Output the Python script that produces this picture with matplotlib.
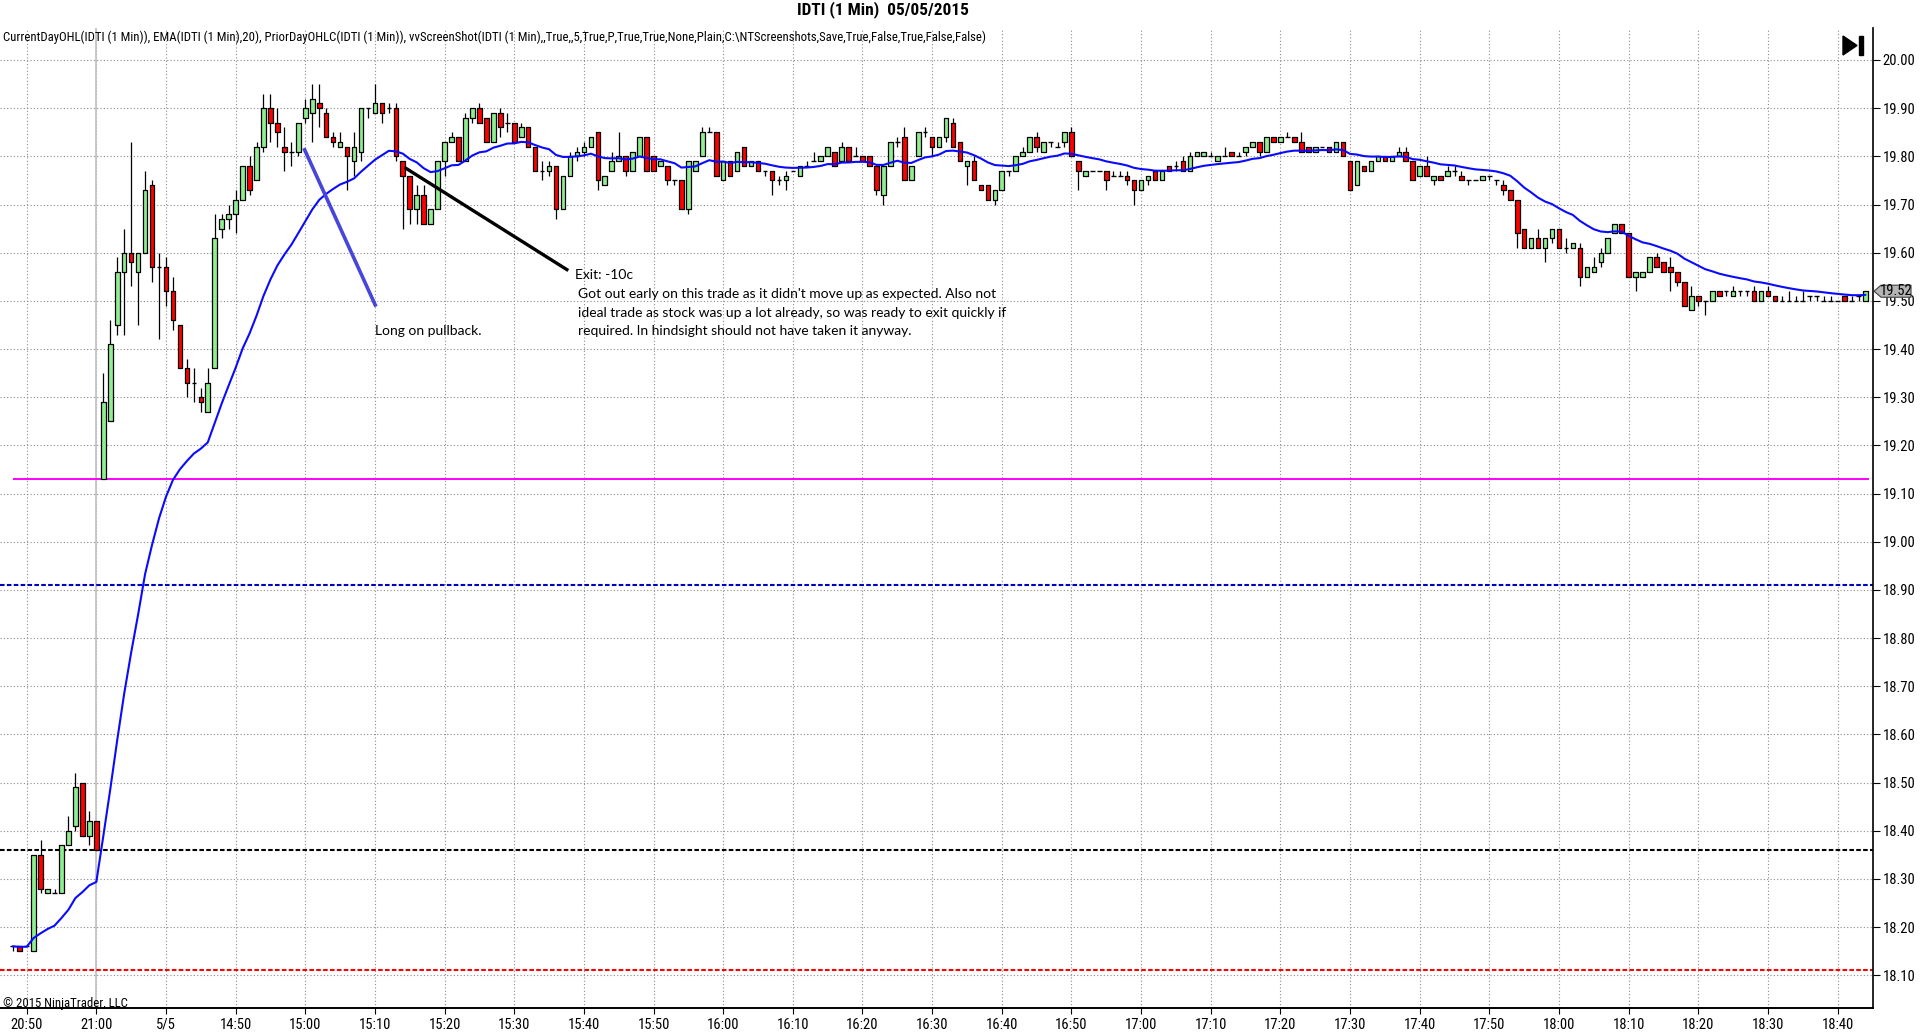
import os
import numpy as np
import matplotlib
matplotlib.use("Agg")
import matplotlib.pyplot as plt
from matplotlib import font_manager
from matplotlib.font_manager import FontProperties
from matplotlib.patches import Rectangle, Polygon
from matplotlib.collections import LineCollection, PatchCollection
import matplotlib.transforms as mtransforms

# ---- data: 1 minute bars, index 0 = 20:50 (prior day), 20 = 5/5 14:40 ----
bars = np.arange(-2, 265)

opens = [18.16, 18.16, 18.16,
    18.15, 18.35, 18.27, 18.27, 18.27, 18.37, 18.41, 18.50, 18.39, 18.42,
    19.13, 19.25, 19.45, 19.56, 19.60, 19.56, 19.60, 19.74, 19.57, 19.57,
    19.52, 19.45, 19.36, 19.33, 19.30, 19.27, 19.36, 19.65, 19.67, 19.68,
    19.71, 19.78, 19.75, 19.82, 19.90, 19.87, 19.82, 19.81, 19.81, 19.88,
    19.89, 19.91, 19.89, 19.84, 19.82, 19.82, 19.79, 19.81, 19.90, 19.89,
    19.91, 19.90, 19.90, 19.79, 19.76, 19.69, 19.72, 19.66, 19.69, 19.79,
    19.83, 19.84, 19.79, 19.88, 19.90, 19.88, 19.83, 19.89, 19.87, 19.87,
    19.84, 19.86, 19.82, 19.77, 19.77, 19.78, 19.69, 19.76, 19.80, 19.81,
    19.82, 19.85, 19.74, 19.77, 19.79, 19.80, 19.77, 19.80, 19.84, 19.80,
    19.78, 19.78, 19.75, 19.75, 19.69, 19.77, 19.80, 19.85, 19.85, 19.75,
    19.79, 19.77, 19.82, 19.78, 19.79, 19.77, 19.77, 19.75, 19.75, 19.77,
    19.76, 19.78, 19.79, 19.79, 19.80, 19.81, 19.79, 19.82, 19.80, 19.80,
    19.80, 19.78, 19.72, 19.78, 19.83, 19.84, 19.75, 19.80, 19.85, 19.84,
    19.82, 19.84, 19.87, 19.83, 19.78, 19.79, 19.74, 19.74, 19.71, 19.73,
    19.77, 19.77, 19.80, 19.81, 19.84, 19.81, 19.83, 19.82, 19.83, 19.85,
    19.79, 19.76, 19.77, 19.77, 19.77, 19.76, 19.76, 19.76, 19.75, 19.73,
    19.75, 19.77, 19.75, 19.78, 19.78, 19.79, 19.77, 19.80, 19.80, 19.80,
    19.79, 19.80, 19.81, 19.80, 19.81, 19.82, 19.83, 19.81, 19.84, 19.83,
    19.84, 19.84, 19.83, 19.82, 19.81, 19.82, 19.82, 19.81, 19.83, 19.79,
    19.74, 19.78, 19.77, 19.79, 19.80, 19.79, 19.80, 19.81, 19.79, 19.76,
    19.78, 19.75, 19.76, 19.76, 19.77, 19.76, 19.75, 19.75, 19.75, 19.76,
    19.75, 19.74, 19.73, 19.71, 19.65, 19.61, 19.63, 19.61, 19.63, 19.65,
    19.61, 19.61, 19.61, 19.55, 19.56, 19.58, 19.60, 19.64, 19.66, 19.64,
    19.55, 19.55, 19.56, 19.59, 19.58, 19.57, 19.56, 19.54, 19.48, 19.51,
    19.50, 19.50, 19.52, 19.52, 19.51, 19.52, 19.52, 19.52, 19.50, 19.52,
    19.51, 19.50, 19.50, 19.50, 19.50, 19.51, 19.51, 19.50, 19.50, 19.50,
    19.51, 19.50, 19.51, 19.50]

highs = [18.16, 18.16, 18.16,
    18.35, 18.38, 18.28, 18.28, 18.37, 18.43, 18.52, 18.50, 18.44, 18.42,
    19.35, 19.46, 19.59, 19.65, 19.83, 19.60, 19.77, 19.75, 19.60, 19.59,
    19.55, 19.45, 19.38, 19.36, 19.32, 19.36, 19.68, 19.68, 19.70, 19.73,
    19.78, 19.80, 19.83, 19.93, 19.93, 19.90, 19.86, 19.83, 19.87, 19.92,
    19.95, 19.95, 19.90, 19.85, 19.85, 19.82, 19.85, 19.90, 19.90, 19.95,
    19.91, 19.91, 19.91, 19.79, 19.76, 19.74, 19.74, 19.69, 19.79, 19.83,
    19.85, 19.84, 19.89, 19.90, 19.91, 19.88, 19.89, 19.90, 19.89, 19.87,
    19.87, 19.86, 19.82, 19.79, 19.79, 19.78, 19.76, 19.81, 19.82, 19.83,
    19.84, 19.85, 19.76, 19.81, 19.85, 19.80, 19.81, 19.84, 19.84, 19.80,
    19.79, 19.78, 19.75, 19.75, 19.79, 19.79, 19.86, 19.86, 19.85, 19.79,
    19.79, 19.81, 19.82, 19.79, 19.79, 19.77, 19.77, 19.76, 19.77, 19.77,
    19.78, 19.79, 19.81, 19.80, 19.82, 19.81, 19.83, 19.82, 19.82, 19.80,
    19.80, 19.78, 19.78, 19.83, 19.84, 19.86, 19.78, 19.85, 19.86, 19.84,
    19.84, 19.88, 19.88, 19.83, 19.79, 19.80, 19.74, 19.74, 19.73, 19.77,
    19.77, 19.80, 19.82, 19.84, 19.85, 19.83, 19.83, 19.83, 19.85, 19.86,
    19.79, 19.77, 19.77, 19.77, 19.77, 19.77, 19.77, 19.77, 19.75, 19.75,
    19.76, 19.77, 19.77, 19.78, 19.79, 19.80, 19.81, 19.81, 19.81, 19.81,
    19.80, 19.82, 19.81, 19.81, 19.82, 19.83, 19.83, 19.84, 19.84, 19.84,
    19.85, 19.84, 19.85, 19.82, 19.82, 19.82, 19.82, 19.83, 19.83, 19.79,
    19.79, 19.78, 19.79, 19.80, 19.80, 19.80, 19.82, 19.82, 19.79, 19.78,
    19.80, 19.76, 19.76, 19.78, 19.78, 19.77, 19.75, 19.75, 19.76, 19.76,
    19.75, 19.75, 19.73, 19.71, 19.65, 19.63, 19.65, 19.63, 19.65, 19.65,
    19.63, 19.62, 19.62, 19.57, 19.59, 19.61, 19.63, 19.66, 19.66, 19.64,
    19.56, 19.56, 19.59, 19.60, 19.58, 19.59, 19.56, 19.54, 19.53, 19.51,
    19.50, 19.52, 19.52, 19.52, 19.53, 19.52, 19.52, 19.53, 19.52, 19.53,
    19.51, 19.51, 19.52, 19.51, 19.52, 19.51, 19.51, 19.51, 19.51, 19.50,
    19.51, 19.51, 19.51, 19.52]

lows = [18.15, 18.15, 18.16,
    18.15, 18.27, 18.27, 18.27, 18.27, 18.37, 18.40, 18.39, 18.37, 18.36,
    19.13, 19.25, 19.43, 19.43, 19.53, 19.45, 19.60, 19.54, 19.42, 19.49,
    19.44, 19.36, 19.30, 19.29, 19.27, 19.27, 19.36, 19.63, 19.65, 19.64,
    19.71, 19.72, 19.75, 19.81, 19.83, 19.82, 19.77, 19.78, 19.80, 19.87,
    19.83, 19.86, 19.84, 19.82, 19.82, 19.73, 19.76, 19.79, 19.88, 19.89,
    19.87, 19.89, 19.79, 19.65, 19.66, 19.66, 19.66, 19.66, 19.69, 19.76,
    19.83, 19.79, 19.79, 19.87, 19.87, 19.83, 19.83, 19.84, 19.85, 19.83,
    19.84, 19.82, 19.77, 19.75, 19.76, 19.67, 19.69, 19.76, 19.79, 19.80,
    19.82, 19.73, 19.74, 19.77, 19.79, 19.76, 19.77, 19.80, 19.77, 19.77,
    19.78, 19.74, 19.74, 19.69, 19.68, 19.77, 19.80, 19.85, 19.76, 19.75,
    19.76, 19.77, 19.78, 19.78, 19.77, 19.76, 19.72, 19.74, 19.73, 19.77,
    19.76, 19.78, 19.79, 19.79, 19.80, 19.78, 19.79, 19.79, 19.80, 19.79,
    19.78, 19.72, 19.70, 19.78, 19.82, 19.75, 19.75, 19.80, 19.84, 19.80,
    19.82, 19.83, 19.82, 19.79, 19.74, 19.75, 19.73, 19.71, 19.70, 19.73,
    19.76, 19.77, 19.80, 19.81, 19.81, 19.81, 19.82, 19.82, 19.82, 19.80,
    19.73, 19.76, 19.77, 19.77, 19.73, 19.76, 19.76, 19.74, 19.70, 19.73,
    19.74, 19.75, 19.75, 19.77, 19.77, 19.77, 19.77, 19.80, 19.80, 19.80,
    19.79, 19.80, 19.80, 19.80, 19.80, 19.82, 19.80, 19.81, 19.83, 19.83,
    19.84, 19.83, 19.81, 19.81, 19.81, 19.82, 19.81, 19.81, 19.80, 19.73,
    19.74, 19.77, 19.77, 19.79, 19.79, 19.79, 19.80, 19.79, 19.75, 19.76,
    19.76, 19.74, 19.75, 19.76, 19.76, 19.75, 19.74, 19.75, 19.75, 19.75,
    19.74, 19.72, 19.71, 19.61, 19.61, 19.61, 19.61, 19.58, 19.62, 19.61,
    19.60, 19.61, 19.53, 19.55, 19.56, 19.57, 19.60, 19.64, 19.64, 19.55,
    19.52, 19.55, 19.56, 19.57, 19.56, 19.52, 19.53, 19.49, 19.48, 19.49,
    19.47, 19.50, 19.51, 19.51, 19.51, 19.51, 19.51, 19.50, 19.50, 19.51,
    19.50, 19.50, 19.50, 19.50, 19.50, 19.50, 19.50, 19.50, 19.50, 19.50,
    19.50, 19.50, 19.50, 19.50]

closes = [18.16, 18.15, 18.16,
    18.35, 18.28, 18.28, 18.27, 18.37, 18.40, 18.49, 18.39, 18.42, 18.36,
    19.29, 19.41, 19.56, 19.60, 19.58, 19.60, 19.73, 19.57, 19.57, 19.52,
    19.46, 19.36, 19.33, 19.33, 19.29, 19.33, 19.63, 19.67, 19.68, 19.71,
    19.78, 19.73, 19.82, 19.90, 19.87, 19.85, 19.81, 19.81, 19.87, 19.90,
    19.92, 19.90, 19.84, 19.83, 19.83, 19.80, 19.82, 19.90, 19.90, 19.91,
    19.89, 19.90, 19.80, 19.76, 19.69, 19.72, 19.66, 19.69, 19.79, 19.83,
    19.84, 19.79, 19.88, 19.90, 19.87, 19.83, 19.89, 19.86, 19.87, 19.83,
    19.86, 19.82, 19.77, 19.77, 19.78, 19.69, 19.76, 19.80, 19.81, 19.82,
    19.84, 19.75, 19.76, 19.79, 19.80, 19.77, 19.81, 19.84, 19.77, 19.77,
    19.79, 19.75, 19.75, 19.69, 19.79, 19.79, 19.85, 19.85, 19.76, 19.79,
    19.76, 19.81, 19.78, 19.79, 19.77, 19.77, 19.75, 19.75, 19.76, 19.77,
    19.78, 19.78, 19.79, 19.80, 19.82, 19.78, 19.82, 19.79, 19.80, 19.79,
    19.78, 19.73, 19.78, 19.83, 19.83, 19.75, 19.78, 19.85, 19.85, 19.82,
    19.84, 19.88, 19.82, 19.79, 19.79, 19.75, 19.73, 19.71, 19.73, 19.77,
    19.77, 19.80, 19.81, 19.84, 19.82, 19.83, 19.83, 19.82, 19.85, 19.80,
    19.77, 19.77, 19.77, 19.77, 19.75, 19.76, 19.76, 19.75, 19.73, 19.75,
    19.76, 19.75, 19.77, 19.77, 19.78, 19.77, 19.80, 19.81, 19.81, 19.80,
    19.80, 19.80, 19.80, 19.80, 19.82, 19.83, 19.81, 19.84, 19.83, 19.84,
    19.84, 19.83, 19.81, 19.81, 19.82, 19.82, 19.81, 19.83, 19.80, 19.73,
    19.79, 19.77, 19.79, 19.80, 19.79, 19.80, 19.81, 19.79, 19.75, 19.78,
    19.76, 19.76, 19.75, 19.77, 19.77, 19.75, 19.75, 19.75, 19.76, 19.76,
    19.75, 19.73, 19.71, 19.64, 19.61, 19.63, 19.61, 19.63, 19.65, 19.61,
    19.61, 19.62, 19.55, 19.57, 19.57, 19.60, 19.63, 19.66, 19.64, 19.55,
    19.56, 19.56, 19.59, 19.57, 19.56, 19.56, 19.54, 19.49, 19.51, 19.50,
    19.50, 19.52, 19.51, 19.52, 19.52, 19.52, 19.52, 19.50, 19.52, 19.51,
    19.50, 19.50, 19.50, 19.50, 19.50, 19.51, 19.51, 19.50, 19.50, 19.50,
    19.50, 19.50, 19.51, 19.52]

# current day open and prior day open/close/low
current_open = 19.13
prior_open = 18.91
prior_close = 18.36
prior_low = 18.11
last_price = 19.52

tick_bars = list(range(0, 261, 10))
tick_labels = ["20:50", "21:00", "5/5", "14:50", "15:00", "15:10", "15:20", "15:30",
               "15:40", "15:50", "16:00", "16:10", "16:20", "16:30", "16:40", "16:50",
               "17:00", "17:10", "17:20", "17:30", "17:40", "17:50", "18:00", "18:10",
               "18:20", "18:30", "18:40"]
session_break = 10

# drawn objects (bar, price)
long_line = [(39.8, 19.817), (50.15, 19.488)]
exit_line = [(54.25, 19.777), (77.76, 19.563)]
long_text = (50.0, 19.437, "Long on pullback.")
exit_title = (78.7, 19.554, "Exit: -10c")
exit_lines = ["Got out early on this trade as it didn't move up as expected. Also not",
              "ideal trade as stock was up a lot already, so was ready to exit quickly if",
              "required. In hindsight should not have taken it anyway."]

# ---- fonts: look for a narrow sans (Arial Narrow look) ----
def find_font(stems):
    files = {os.path.basename(f.fname): f.fname for f in font_manager.fontManager.ttflist}
    for s in stems:
        for name, path in files.items():
            if name.lower().startswith(s.lower()):
                return path
    return None

reg = find_font(["LiberationSansNarrow-Regular", "RobotoCondensed-Regular", "DejaVuSansCondensed."])
bold = find_font(["LiberationSansNarrow-Bold.", "RobotoCondensed-Bold.", "DejaVuSansCondensed-Bold."])
if reg:
    fp_small = FontProperties(fname=reg)
    fp_bold = FontProperties(fname=bold) if bold else FontProperties(fname=reg, weight="bold")
    tick_size, info_size, title_size = 10.5, 9.2, 12.4
else:
    fp_small = FontProperties(family="Liberation Sans")
    fp_bold = FontProperties(family="Liberation Sans", weight="bold")
    tick_size, info_size, title_size = 9.5, 8.0, 11.3

names = {f.name for f in font_manager.fontManager.ttflist}
note_font = "Lato" if "Lato" in names else "DejaVu Sans"

def fp(base, size):
    p = base.copy()
    p.set_size(size)
    return p

W, H = 1920, 1034
fig = plt.figure(figsize=(W / 100, H / 100), dpi=100)
fig.patch.set_facecolor("white")

# plot area in pixels: x 0..1873, y 28..1008
ax = fig.add_axes([0, (H - 1008) / H, 1873 / W, (1008 - 28) / H])
ax.set_xlim(-3.83, 265.08)
ax.set_ylim(18.032, 20.0664)

for s in ["top", "left"]:
    ax.spines[s].set_visible(False)
ax.spines["right"].set_linewidth(1.2)
ax.spines["bottom"].set_linewidth(1.4)

ax.yaxis.tick_right()
yt = np.round(np.arange(18.1, 20.001, 0.1), 2)
ax.set_yticks(yt)
ax.set_yticklabels(["%.2f" % v for v in yt])
ax.set_xticks(tick_bars)
ax.set_xticklabels(tick_labels)
ax.tick_params(axis="y", direction="out", length=5, width=0.8, pad=2)
ax.tick_params(axis="x", direction="out", length=4, width=0.8, pad=3)
for lab in ax.get_xticklabels() + ax.get_yticklabels():
    lab.set_fontproperties(fp(fp_small, tick_size))

ax.grid(True, color="#8c8c8c", linestyle=(0, (1, 2)), linewidth=0.8)
ax.set_axisbelow(True)
ax.axvline(session_break, color="#c4c4c4", lw=1.3, zorder=1)

# prior day / current day levels
ax.axhline(prior_open, color="#0000c0", lw=1.5, ls=(0, (2.2, 1.1)), zorder=2)
ax.axhline(prior_close, color="black", lw=1.5, ls=(0, (2.2, 1.1)), zorder=2)
ax.axhline(prior_low, color="#ff0000", lw=1.5, ls=(0, (2.2, 1.1)), zorder=2)
ax.hlines(current_open, bars[0], bars[-1] + 0.5, color="#ff00ff", lw=1.4, zorder=2)

# candles
o = np.array(opens); h = np.array(highs); l = np.array(lows); c = np.array(closes)
bw = 0.66
wicks = LineCollection([[(x, lo), (x, hi)] for x, lo, hi in zip(bars, l, h)],
                       colors="black", linewidths=0.9, zorder=3)
ax.add_collection(wicks)
bodies, colors, dojis = [], [], []
for x, op, cl in zip(bars, o, c):
    if abs(cl - op) < 1e-9:
        dojis.append([(x - bw / 2, op), (x + bw / 2, op)])
    else:
        bodies.append(Rectangle((x - bw / 2, min(op, cl)), bw, abs(cl - op)))
        colors.append("#90ee90" if cl > op else "#ff0000")
ax.add_collection(PatchCollection(bodies, facecolors=colors, edgecolors="black",
                                  linewidths=0.9, zorder=4))
ax.add_collection(LineCollection(dojis, colors="black", linewidths=1.0, zorder=4))

# EMA(20) of closes
k = 2 / 21
ema = [closes[0]]
for v in closes[1:]:
    ema.append(ema[-1] + k * (v - ema[-1]))
ax.plot(bars, ema, color="#0a0aff", lw=1.5, zorder=5, solid_capstyle="round")

# drawn trade lines + text
ax.plot(*zip(*long_line), color="#4646dc", lw=2.6, zorder=6, solid_capstyle="butt")
ax.plot(*zip(*exit_line), color="black", lw=2.4, zorder=6, solid_capstyle="butt")
note_size = 10.0
ax.text(long_text[0], long_text[1], long_text[2], fontsize=note_size, family=note_font,
        va="center", ha="left", zorder=7)
ax.text(exit_title[0], exit_title[1], exit_title[2], fontsize=note_size, family=note_font,
        va="center", ha="left", zorder=7)
for i, line in enumerate(exit_lines):
    ax.text(exit_title[0] + 0.4, exit_title[1] - 0.0392 * (i + 1), line, fontsize=note_size,
            family=note_font, va="center", ha="left", zorder=7)

# last price marker on the price axis
tr = mtransforms.blended_transform_factory(fig.transFigure, ax.transData)
d = 0.0125
marker = Polygon([(1874 / W, last_price), (1881 / W, last_price + d), (1911 / W, last_price + d),
                  (1911 / W, last_price - d), (1881 / W, last_price - d)],
                 closed=True, transform=tr, facecolor="#b4b4b4", edgecolor="#404040",
                 lw=0.8, clip_on=False, zorder=10)
fig.add_artist(marker)
fig.text(1896 / W, last_price, "%.2f" % last_price, transform=tr,
         fontproperties=fp(fp_small, tick_size), ha="center", va="center", zorder=11)

# texts around the chart
fig.text(883 / W, 1 - 10 / H, "IDTI (1 Min)  05/05/2015", ha="center", va="center",
         fontproperties=fp(fp_bold, title_size))
fig.text(3 / W, 1 - 37 / H,
         "CurrentDayOHL(IDTI (1 Min)), EMA(IDTI (1 Min),20), PriorDayOHLC(IDTI (1 Min)), "
         "vvScreenShot(IDTI (1 Min),,True,,5,True,P,True,True,None,Plain,C:\\NTScreenshots,"
         "Save,True,False,True,False,False)",
         ha="left", va="center", fontproperties=fp(fp_small, info_size))
fig.text(3 / W, 1 - 1003 / H, "\u00a9 2015 NinjaTrader, LLC", ha="left", va="center",
         fontproperties=fp(fp_small, info_size))

# go-to-end button, top right
px = lambda x, y: (x / W, 1 - y / H)
fig.add_artist(Polygon([px(1843, 36), px(1857, 45.5), px(1843, 55)], closed=True,
                       transform=fig.transFigure, color="black"))
fig.add_artist(Rectangle(px(1859, 55), 4 / W, 19 / H, transform=fig.transFigure, color="black"))

fig.savefig("out.png", dpi=100)
